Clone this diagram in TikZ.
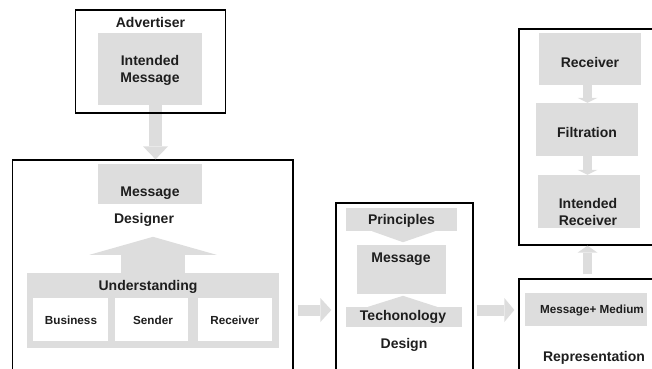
\documentclass[tikz,border=0pt]{standalone}
\usepackage{fontspec}
\setmainfont{Liberation Sans}
\usetikzlibrary{arrows.meta}
\definecolor{boxgray}{RGB}{221,221,221}
\definecolor{txt}{RGB}{30,30,30}
\tikzset{
  frame/.style 2 args={draw=black, line width=1.3pt, fill=none, minimum width=#1, minimum height=#2, inner sep=0pt},
  graybox/.style 2 args={fill=boxgray, draw=none, minimum width=#1, minimum height=#2, inner sep=0pt},
  whitebox/.style 2 args={fill=white, draw=none, minimum width=#1, minimum height=#2, inner sep=0pt},
  lbl/.style={font=\bfseries\fontsize{14}{17}\selectfont, text=txt, inner sep=0pt, align=center},
  smalllbl/.style={font=\bfseries\fontsize{11.7}{14}\selectfont, text=txt, inner sep=0pt, align=center},
  blockarrow/.style n args={3}{draw=boxgray, line width=#1, -{Triangle[width=#2, length=#3, line width=0pt]}},
}
\begin{document}
\begin{tikzpicture}[x=1pt, y=-1pt]
\useasboundingbox (0,0) rectangle (652,368);
\clip (0,0) rectangle (652,368);

% ---------- Advertiser ----------
\node[graybox={104pt}{72pt}] (imsg) at (150,69) {};
\node[lbl] (imsgl) at (150,70) {Intended\\Message};
\node[lbl] (advl) at (150.5,22.5) {Advertiser};

% ---------- Designer box ----------
\node[frame={280.3pt}{260pt}] (des) at (152.85,290) {};
\coordinate (a0) at ([xshift=5.5pt]imsg.south);
\draw[blockarrow={13pt}{25pt}{13pt}] (a0) -- (a0 |- des.north);
\node[frame={150pt}{103pt}] (adv) at (150.7,61.5) {};

\node[graybox={104pt}{40pt}] (msga) at (150,184) {};
\node[lbl] (msgal) at (150,193) {Message};
\node[lbl] (desl) at (144,220) {Designer};

\node[graybox={252pt}{75pt}] (und) at (153,310.5) {};
\draw[blockarrow={64pt}{127pt}{18pt}] (und.north) -- ([yshift=36pt]und.north);
\node[lbl] (undl) at (148,287) {Understanding};
\node[whitebox={75pt}{43pt}] (bus) at (70.5,319.5) {};
\node[whitebox={73pt}{43pt}] (snd) at (151.5,319.5) {};
\node[whitebox={74pt}{43pt}] (rcvw) at (235,319.5) {};
\node[smalllbl] (busl) at (71,320.5) {Business};
\node[smalllbl] (sndl) at (153,320.5) {Sender};
\node[smalllbl] (rcvwl) at (234.7,320.5) {Receiver};

% ---------- Design box ----------
\node[frame={137pt}{230pt}] (mid) at (404.5,318) {};
\draw[blockarrow={11pt}{24pt}{11pt}] ([shift={(4pt,-20pt)}]des.east) -- ([shift={(-4pt,8pt)}]mid.west);

\node[graybox={111pt}{23pt}] (prin) at (401.5,219.5) {};
\node[lbl] (prinl) at (401.5,220.5) {Principles};
\fill[boxgray] ([xshift=-29.5pt]prin.south) -- ([xshift=33.5pt]prin.south) -- ([shift={(1.5pt,-11pt)}]prin.south) -- cycle;
\node[graybox={89pt}{49pt}] (msgb) at (401.5,269.5) {};
\node[lbl] (msgbl) at (401,259.5) {Message};
\node[graybox={116pt}{20pt}] (tech) at (404,317) {};
\fill[boxgray] ([xshift=-36pt]tech.north) -- ([xshift=33pt]tech.north) -- ([shift={(-1pt,11pt)}]tech.north) -- cycle;
\node[lbl] (techl) at (403,317) {Techonology};
\node[lbl] (dsgl) at (404,344.5) {Design};

% ---------- Representation box ----------
\node[frame={181pt}{141pt}] (rep) at (609.5,349.5) {};
\draw[blockarrow={11pt}{24pt}{10pt}] ([shift={(3pt,8pt)}]mid.east) -- ([shift={(-4pt,39.5pt)}]rep.west);
\node[graybox={122pt}{33pt}] (mm) at (586,309.5) {};
\node[smalllbl] (mml) at (592,310) {Message+ Medium};
\node[lbl] (repl) at (594,357.5) {Representation};

% ---------- Receiver box ----------
\node[frame={181pt}{216pt}] (recv) at (609.5,137) {};
\draw[blockarrow={9pt}{20pt}{7pt}] ([shift={(-22pt,4pt)}]rep.north) -- ([xshift=-22pt]recv.south);

\node[graybox={102pt}{52pt}] (rcv) at (590,59) {};
\node[lbl] (rcvl) at (590,62) {Receiver};
\node[graybox={102pt}{53pt}] (filt) at (587,129.5) {};
\node[lbl] (filtl) at (587,132) {Filtration};
\node[graybox={102pt}{53pt}] (ir) at (589,201.5) {};
\node[lbl] (irl) at (588,211.5) {Intended\\Receiver};
\draw[blockarrow={9pt}{20pt}{5pt}] ([xshift=-2.5pt]rcv.south) -- ([xshift=0.5pt]filt.north);
\draw[blockarrow={9pt}{20pt}{5pt}] ([xshift=0.5pt]filt.south) -- ([xshift=-1.5pt]ir.north);
\end{tikzpicture}
\end{document}
